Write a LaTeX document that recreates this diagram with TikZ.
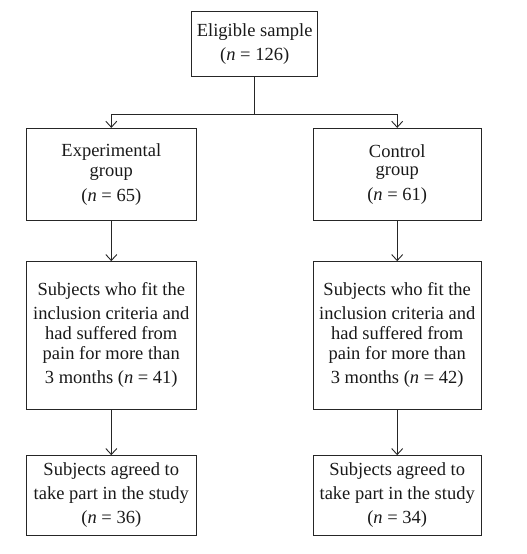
\documentclass[tikz,border=0pt]{standalone}
\usepackage{fontspec}
\setmainfont{Liberation Serif}
\usepackage{tikz}
\usetikzlibrary{positioning,arrows.meta}

\tikzset{
	flowbox/.style={draw=black!85, line width=0.9pt, inner sep=0pt, align=center, text=black!90, font=\fontsize{18.5}{22}\selectfont},
	leftcol/.style={flowbox, minimum width=170.7pt},
	rightcol/.style={flowbox, minimum width=167.7pt},
	flowline/.style={draw=black!85, line width=0.9pt},
	flowarrow/.style={flowline, -{Straight Barb[length=6pt,width=11pt]}}
}

\begin{document}
\begin{tikzpicture}[x=1pt,y=-1pt]

	\useasboundingbox (0,0) rectangle (527,554);

	% first level
	\node[flowbox, minimum width=126pt, minimum height=65pt] (sample) at (254.7,44.2) {Eligible sample\\[2pt](\textit{n} = 126)};

	% groups
	\node[leftcol, minimum height=91.7pt] (exp) at (111.3,174.2) {Experimental\\[-2pt]group\\[3pt](\textit{n} = 65)};
	\node[rightcol, minimum height=91.7pt] (ctrl) at (397.2,174.2) {Control\\[-4pt]group\\[3pt](\textit{n} = 61)};

	% inclusion
	\node[leftcol, minimum height=147.3pt] (expfit) at (111.3,335.3) {Subjects who fit the\\[2pt]inclusion criteria and\\[-2pt]had suffered from\\[-2pt]pain for more than\\[2pt]3 months (\textit{n} = 41)};
	\node[rightcol, minimum height=147.3pt] (ctrlfit) at (397.2,335.3) {Subjects who fit the\\[2pt]inclusion criteria and\\[-2pt]had suffered from\\[-2pt]pain for more than\\[2pt]3 months (\textit{n} = 42)};

	% agreed
	\node[leftcol, minimum height=79.3pt] (expagree) at (111.3,495.3) {Subjects agreed to\\[1.5pt]take part in the study\\[2.5pt](\textit{n} = 36)};
	\node[rightcol, minimum height=79.3pt] (ctrlagree) at (397.2,495.3) {Subjects agreed to\\[1.5pt]take part in the study\\[2.5pt](\textit{n} = 34)};

	% connectors
	\draw[flowline] (sample.south) -- ++(0,37.3) coordinate (split);
	\draw[flowarrow] (split) -| (exp.north);
	\draw[flowarrow] (split) -| (ctrl.north);
	\draw[flowarrow] (exp.south) -- (expfit.north);
	\draw[flowarrow] (ctrl.south) -- (ctrlfit.north);
	\draw[flowarrow] (expfit.south) -- (expagree.north);
	\draw[flowarrow] (ctrlfit.south) -- (ctrlagree.north);

\end{tikzpicture}
\end{document}
